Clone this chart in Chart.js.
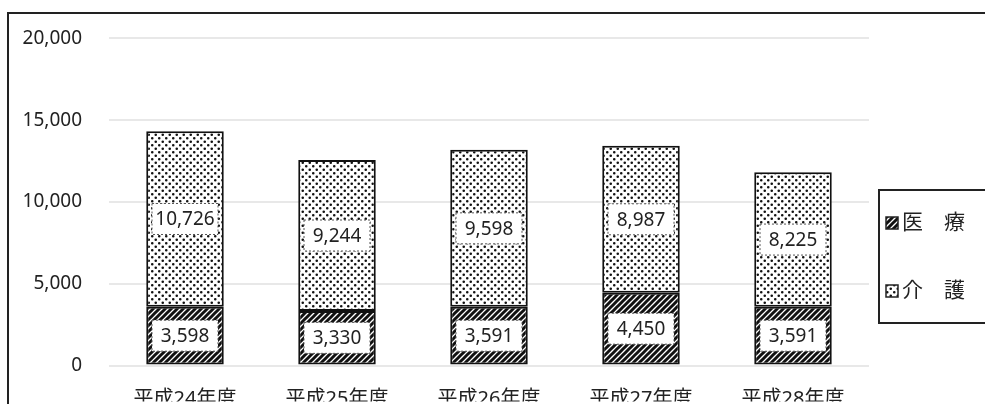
<!DOCTYPE html>
<html>
<head>
<meta charset="utf-8">
<script src="https://cdn.jsdelivr.net/npm/chart.js@4.4.0/dist/chart.umd.min.js"></script>
<style>
  html, body { margin: 0; padding: 0; background: #fff; }
  #wrap { width: 985px; height: 404px; }
</style>
</head>
<body>
<div id="wrap"><canvas id="myChart" width="985" height="404"></canvas></div>
<script>
// 年度別 件数（医療・介護）
var years = ['平成24年度', '平成25年度', '平成26年度', '平成27年度', '平成28年度'];
var iryo = [3598, 3330, 3591, 4450, 3591];
var kaigo = [10726, 9244, 9598, 8987, 8225];
var seriesNames = ['医療', '介護'];
var legendText = ['医　療', '介　護'];
var yTicks = [0, 5000, 10000, 15000, 20000];

var FONT = "'Noto Sans', 'Noto Sans CJK JP', sans-serif";

// 斜線ハッチ
function hatchPattern() {
  var c = document.createElement('canvas');
  c.width = 6; c.height = 6;
  var g = c.getContext('2d');
  g.fillStyle = '#fff';
  g.fillRect(0, 0, 6, 6);
  g.strokeStyle = '#111';
  g.lineWidth = 3;
  g.beginPath();
  g.moveTo(-1, 7); g.lineTo(7, -1);
  g.moveTo(-4, 4); g.lineTo(4, -4);
  g.moveTo(2, 10); g.lineTo(10, 2);
  g.stroke();
  return g.createPattern(c, 'repeat');
}

// 点描
function dotPattern() {
  var c = document.createElement('canvas');
  c.width = 7; c.height = 7;
  var g = c.getContext('2d');
  g.fillStyle = '#fff';
  g.fillRect(0, 0, 7, 7);
  g.fillStyle = '#111';
  g.beginPath();
  g.arc(1.75, 1.75, 1.3, 0, Math.PI * 2);
  g.arc(5.25, 5.25, 1.3, 0, Math.PI * 2);
  g.fill();
  return g.createPattern(c, 'repeat');
}

var fills = [hatchPattern(), dotPattern()];

// 値ラベル（白抜きボックス）
var valueBoxes = {
  id: 'valueBoxes',
  afterDatasetsDraw: function (chart) {
    var ctx = chart.ctx;
    ctx.save();
    ctx.font = '19px ' + FONT;
    ctx.textAlign = 'center';
    ctx.textBaseline = 'middle';
    chart.data.datasets.forEach(function (ds, i) {
      chart.getDatasetMeta(i).data.forEach(function (bar, j) {
        var cy = (bar.y + bar.base) / 2;
        var w = 66, h = 31;
        ctx.fillStyle = '#fff';
        ctx.fillRect(bar.x - w / 2, cy - h / 2, w, h);
        ctx.strokeStyle = '#555';
        ctx.lineWidth = 1;
        ctx.setLineDash([2, 2]);
        ctx.strokeRect(bar.x - w / 2, cy - h / 2, w, h);
        ctx.setLineDash([]);
        ctx.fillStyle = '#222';
        ctx.fillText(ds.data[j].toLocaleString('en-US'), bar.x, cy + 1);
      });
    });
    ctx.restore();
  }
};

// 枠線と凡例ボックス
var frameAndLegend = {
  id: 'frameAndLegend',
  afterDraw: function (chart) {
    var ctx = chart.ctx;
    var area = chart.chartArea;
    ctx.save();
    ctx.strokeStyle = '#222';
    ctx.lineWidth = 2;
    ctx.beginPath();
    ctx.moveTo(8, chart.height);
    ctx.lineTo(8, 13);
    ctx.lineTo(chart.width, 13);
    ctx.stroke();

    var bx = area.right + 10, by = 190, bh = 133;
    ctx.strokeRect(bx, by, chart.width - bx + 5, bh);

    ctx.font = '21px ' + FONT;
    ctx.textBaseline = 'middle';
    ctx.textAlign = 'left';
    chart.data.datasets.forEach(function (ds, i) {
      var y = by + 33 + i * 68;
      ctx.fillStyle = fills[i];
      ctx.fillRect(bx + 7, y - 6, 12, 12);
      ctx.lineWidth = 1.5;
      ctx.strokeRect(bx + 7, y - 6, 12, 12);
      ctx.fillStyle = '#222';
      ctx.fillText(legendText[i], bx + 23, y);
    });
    ctx.restore();
  }
};

var ctx = document.getElementById('myChart');
var myChart = new Chart(ctx, {
  type: 'bar',
  data: {
    labels: years,
    datasets: [{
      label: seriesNames[0],
      data: iryo,
      backgroundColor: fills[0],
      borderColor: '#111',
      borderWidth: 2,
      borderSkipped: false,
      categoryPercentage: 1,
      barPercentage: 0.51
    }, {
      label: seriesNames[1],
      data: kaigo,
      backgroundColor: fills[1],
      borderColor: '#111',
      borderWidth: 2,
      borderSkipped: false,
      categoryPercentage: 1,
      barPercentage: 0.51
    }]
  },
  options: {
    responsive: false,
    animation: false,
    layout: { padding: { top: 35, right: 116, left: 0, bottom: 0 } },
    plugins: {
      legend: { display: false },
      tooltip: { enabled: false }
    },
    scales: {
      x: {
        stacked: true,
        grid: { display: false },
        border: { display: false },
        ticks: { color: '#222', font: { family: FONT, size: 20 }, padding: 14 },
        afterFit: function (s) { s.height = 36; }
      },
      y: {
        stacked: true,
        min: 0,
        max: 20000,
        afterBuildTicks: function (s) { s.ticks = yTicks.map(function (v) { return { value: v }; }); },
        grid: { color: '#e8e8e8', lineWidth: 2, drawTicks: false },
        border: { display: false },
        ticks: {
          color: '#222',
          padding: 27,
          font: { family: FONT, size: 19 },
          callback: function (v) { return v.toLocaleString('en-US'); }
        },
        afterFit: function (s) { s.width = 109; }
      }
    }
  },
  plugins: [valueBoxes, frameAndLegend]
});
</script>
</body>
</html>
